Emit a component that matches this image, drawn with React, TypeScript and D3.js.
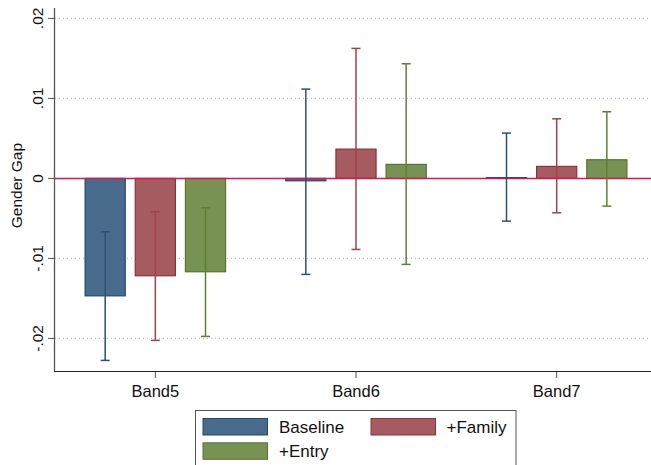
import React from "react";
import * as d3 from "d3";

const categories = ["Band5", "Band6", "Band7"];
const seriesNames = ["Baseline", "+Family", "+Entry"];
const baselineVals = [-0.01468, -0.0003, 0.0001];
const familyVals = [-0.01217, 0.00366, 0.0015];
const entryVals = [-0.01167, 0.00175, 0.00233];
const baselineLo = [-0.02275, -0.012, -0.00534];
const baselineHi = [-0.00667, 0.01116, 0.00566];
const familyLo = [-0.02025, -0.00888, -0.0043];
const familyHi = [-0.00417, 0.01625, 0.00745];
const entryLo = [-0.01975, -0.01075, -0.00346];
const entryHi = [-0.00367, 0.01433, 0.00833];
const yTicks = [0.02, 0.01, 0, -0.01, -0.02];
const yTickLabels = [".02", ".01", "0", "-.01", "-.02"];

const fills = ["#486b8c", "#a55b60", "#789253"];
const strokes = ["#1f4a70", "#8e3139", "#55752f"];
const ciColors = ["#2a5279", "#a0424a", "#5f7f36"];

const values = [baselineVals, familyVals, entryVals];
const los = [baselineLo, familyLo, entryLo];
const his = [baselineHi, familyHi, entryHi];

const FONT = "'Liberation Sans', Arial, sans-serif";

export default function App() {
  const W = 651, H = 465;
  const left = 55, right = 657, top = 8, bottom = 372;
  const x = d3.scaleBand<string>().domain(categories).range([left, right]).padding(0);
  const bw = x.bandwidth();
  const xs = d3
    .scaleBand<string>()
    .domain(seriesNames)
    .range([-0.35 * bw, 0.35 * bw])
    .paddingInner(0.2)
    .paddingOuter(0);
  const y = d3.scaleLinear().domain([-0.0242, 0.0213]).range([bottom, top]);
  const cap = 4.5;

  return (
    <svg
      width={W}
      height={H}
      style={{ position: "absolute", left: 0, top: 0, background: "#fff" }}
      fontFamily={FONT}
    >
      <rect x={0} y={0} width={W} height={H} fill="#fff" />
      {/* gridlines */}
      {yTicks.filter((t) => t !== 0).map((t) => (
        <line
          key={"g" + t}
          x1={left}
          x2={W}
          y1={y(t)}
          y2={y(t)}
          stroke="#b8b8b8"
          strokeWidth={1}
          strokeDasharray="1,3"
        />
      ))}
      {/* bars */}
      {seriesNames.map((s, si) =>
        categories.map((c, ci) => {
          const v = values[si][ci];
          const bx = (x(c) as number) + bw / 2 + (xs(s) as number);
          const y0 = y(0), y1 = y(v);
          return (
            <rect
              key={s + c}
              x={bx}
              width={xs.bandwidth()}
              y={Math.min(y0, y1)}
              height={Math.max(Math.abs(y1 - y0), 0.5)}
              fill={fills[si]}
              stroke={strokes[si]}
              strokeWidth={1.2}
            />
          );
        })
      )}
      {/* zero line */}
      <line x1={left} x2={W} y1={y(0)} y2={y(0)} stroke="#d8164a" strokeWidth={1.5} />
      {/* CIs */}
      {seriesNames.map((s, si) =>
        categories.map((c, ci) => {
          const cx = (x(c) as number) + bw / 2 + (xs(s) as number) + xs.bandwidth() / 2;
          const lo = y(los[si][ci]), hi = y(his[si][ci]);
          return (
            <g key={"ci" + s + c} stroke={ciColors[si]} strokeWidth={1.5}>
              <line x1={cx} x2={cx} y1={lo} y2={hi} />
              <line x1={cx - cap} x2={cx + cap} y1={lo} y2={lo} />
              <line x1={cx - cap} x2={cx + cap} y1={hi} y2={hi} />
            </g>
          );
        })
      )}
      {/* axes */}
      <line x1={left - 0.5} x2={left - 0.5} y1={top} y2={bottom} stroke="#555" strokeWidth={1.3} />
      <line x1={left - 1} x2={W} y1={bottom - 0.5} y2={bottom - 0.5} stroke="#222" strokeWidth={1.2} />
      {yTicks.map((t, i) => (
        <g key={"yt" + t}>
          <line x1={left - 7} x2={left} y1={y(t)} y2={y(t)} stroke="#555" strokeWidth={1} />
          <text
            transform={`translate(43,${y(t)}) rotate(-90)`}
            textAnchor="middle"
            fontSize={15.5}
            fill="#111"
          >
            {yTickLabels[i]}
          </text>
        </g>
      ))}
      <text
        transform={`translate(22,${y(-0.0009)}) rotate(-90)`}
        textAnchor="middle"
        fontSize={15.5}
        fill="#111"
      >
        Gender Gap
      </text>
      {categories.map((c) => {
        const cx = (x(c) as number) + bw / 2;
        return (
          <g key={"xt" + c}>
            <line x1={cx} x2={cx} y1={bottom} y2={bottom + 6} stroke="#555" strokeWidth={1} />
            <text x={cx} y={397} textAnchor="middle" fontSize={16.5} fill="#111">
              {c}
            </text>
          </g>
        );
      })}
      {/* legend */}
      <rect x={195.5} y={410.5} width={320.5} height={70} fill="#fff" stroke="#555" strokeWidth={1} />
      {seriesNames.map((s, si) => {
        const col = si === 1 ? 1 : 0;
        const row = si === 2 ? 1 : 0;
        const sx = col === 0 ? 203 : 371;
        const sy = 418.5 + row * 24.3;
        const tx = col === 0 ? 279 : 446.5;
        return (
          <g key={"lg" + s}>
            <rect x={sx} y={sy} width={64.5} height={16.5} fill={fills[si]} stroke={strokes[si]} strokeWidth={1} />
            <text x={tx} y={sy + 14} fontSize={17} fill="#111">
              {s}
            </text>
          </g>
        );
      })}
    </svg>
  );
}
